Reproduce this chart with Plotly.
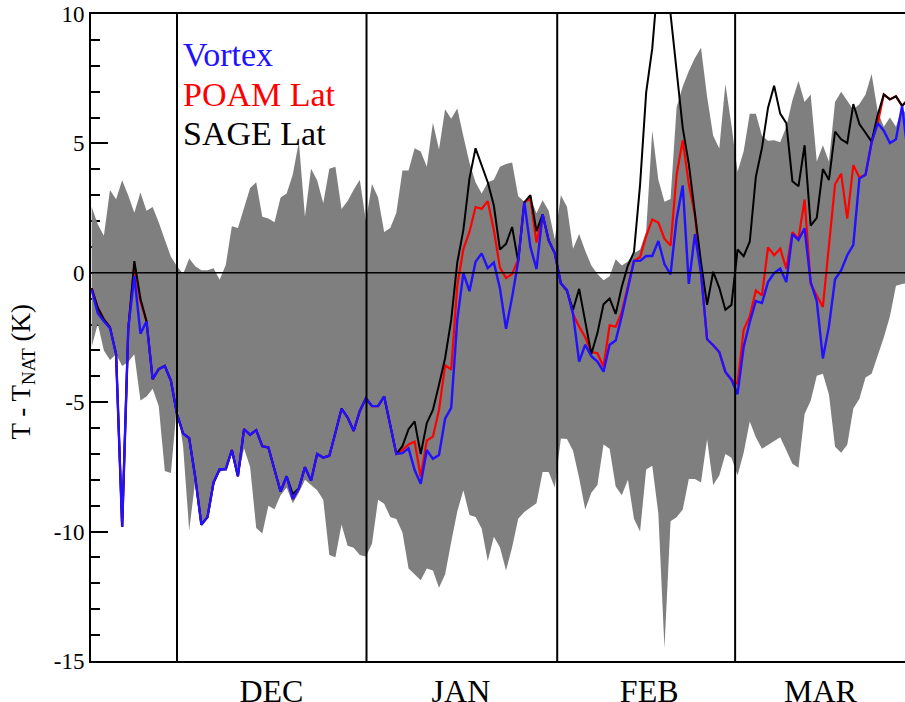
import plotly.graph_objects as go

# ---- data (daily samples, day 0 = first sample in mid-November) ----
vortex = [-0.65, -1.56, -1.87, -2.14, -3.14, -9.82, -2.16, -0.12, -2.35, -1.88,
          -4.11, -3.72, -3.6, -4.17, -5.46, -6.21, -6.39, -7.91, -9.73, -9.44,
          -8.1, -7.59, -7.59, -6.85, -7.86, -6.04, -6.26, -6.08, -6.7, -6.75,
          -7.6, -8.45, -7.86, -8.74, -8.33, -7.51, -8.03, -7.0, -7.14, -7.07,
          -6.18, -5.25, -5.59, -6.11, -5.34, -4.85, -5.15, -5.15, -4.78, -5.89,
          -7.0, -6.97, -6.78, -7.62, -8.15, -6.85, -7.19, -7.04, -5.64, -5.22,
          -1.82, -0.01, -0.71, 0.43, 0.75, 0.18, 0.4, -0.6, -2.16, -0.94,
          0.44, 2.72, 1.0, 0.15, 2.26, 1.25, 0.76, -0.41, -0.67, -1.59,
          -3.43, -2.78, -3.22, -3.43, -3.82, -2.78, -2.62, -1.67, -0.57, 0.46,
          0.46, 0.65, 0.65, 1.23, 0.34, -0.06, 2.09, 3.37, -0.43, 1.49,
          -0.01, -2.57, -2.8, -3.06, -3.83, -4.13, -4.69, -2.87, -1.91, -1.09,
          -1.17, -0.36, -0.01, 0.16, -0.36, 1.49, 1.27, 1.72, -0.36, -1.09,
          -3.31, -2.06, -0.25, 0.09, 0.68, 1.08, 3.64, 3.79, 5.04, 5.78,
          5.49, 5.01, 5.16, 6.45, 4.5]

poam_lat = [-0.6, -1.35, -1.8, -2.1, -3.14, -9.82, -2.16, 0.3, -1.1, -1.88,
            -4.11, -3.72, -3.6, -4.17, -5.46, -6.21, -6.39, -7.91, -9.73, -9.44,
            -8.1, -7.59, -7.59, -6.85, -7.86, -6.04, -6.26, -6.08, -6.7, -6.75,
            -7.6, -8.45, -7.86, -8.74, -8.33, -7.51, -8.03, -7.0, -7.14, -7.07,
            -6.18, -5.25, -5.59, -6.11, -5.34, -4.85, -5.15, -5.15, -4.78, -5.89,
            -7.0, -6.85, -6.63, -6.52, -7.88, -6.48, -6.33, -5.3, -3.57, -3.74,
            -0.49, 0.92, 1.58, 2.54, 2.47, 2.77, 1.65, 0.2, -0.2, -0.05,
            0.52, 2.72, 2.88, 1.17, 2.26, 1.25, 0.76, -0.41, -0.67, -1.59,
            -2.08, -2.49, -3.06, -3.11, -3.63, -2.03, -2.08, -1.51, -0.55, 0.46,
            0.61, 1.42, 2.06, 1.94, 1.32, 1.05, 3.79, 5.12, 3.42, 2.23,
            -0.01, -2.57, -2.8, -3.06, -3.83, -4.13, -4.28, -2.2, -1.69, -0.68,
            -0.87, 0.98, 0.68, 0.93, 0.16, 1.57, 1.32, 2.83, -0.43, -0.87,
            -1.32, 1.05, 3.42, 3.83, 2.09, 4.16, 3.68, 3.79, 5.04, 5.78,
            6.89, 6.7, 6.82, 6.45, 6.7]

sage_lat = [-0.6, -1.35, -1.8, -2.1, -3.14, -9.82, -2.16, 0.45, -1.0, -1.88,
            -4.11, -3.72, -3.6, -4.17, -5.46, -6.21, -6.39, -7.91, -9.73, -9.44,
            -8.1, -7.59, -7.59, -6.85, -7.86, -6.04, -6.26, -6.08, -6.7, -6.75,
            -7.6, -8.45, -7.86, -8.55, -8.33, -7.51, -8.03, -7.0, -7.14, -7.07,
            -6.18, -5.25, -5.59, -6.11, -5.34, -4.85, -5.15, -5.15, -4.78, -5.89,
            -7.0, -6.7, -6.04, -5.74, -7.0, -5.81, -5.3, -4.33, -3.3, -1.82,
            0.4, 1.66, 3.65, 4.81, 4.17, 3.5, 2.6, 0.9, 1.12, 1.77,
            0.44, 2.72, 3.0, 1.61, 2.26, 1.25, 0.76, -0.41, -0.7, -1.43,
            -0.62, -1.84, -3.14, -2.33, -1.22, -0.99, -1.59, -0.54, 0.28, 0.8,
            3.4, 6.97, 8.67, 11.5, 11.8, 10.0, 7.7, 5.6, 4.2, 2.2,
            0.4, -1.24, 0.04, -0.58, -1.43, -1.24, 0.9, 0.64, 1.2, 3.71,
            4.82, 6.38, 7.23, 6.15, 5.78, 3.54, 3.34, 4.93, 1.82, 2.12,
            4.01, 3.59, 5.46, 5.16, 5.01, 6.52, 5.75, 5.41, 5.07, 6.1,
            6.89, 6.7, 6.82, 6.45, 6.7]

band_upper = [2.54, 1.88, 1.43, 3.2, 2.84, 3.58, 2.99, 2.32, 3.1, 2.4,
              2.54, 1.95, 1.28, 0.62, 0.25, -0.05, 0.55, 0.25, 0.1, 0.1,
              0.18, -0.27, 0.3, 1.8, 1.73, 2.54, 3.28, 3.5, 2.17, 2.1,
              1.95, 2.91, 3.06, 3.8, 5.06, 2.17, 4.02, 3.58, 2.69, 4.02,
              4.1, 2.47, 2.77, 3.21, 3.6, 2.0, 3.43, 2.91, 1.58, 1.73,
              2.32, 3.95, 3.95, 4.81, 4.69, 4.1, 5.8, 4.76, 6.32, 5.95,
              6.35, 5.28, 4.25, 3.5, 3.06, 3.5, 3.6, 4.1, 4.2, 4.26,
              2.96, 2.75, 2.9, 2.3, 2.8, 2.4, 1.3, 3.0, 2.55, 0.93,
              1.5, 0.85, 0.28, -0.05, -0.29, -0.13, 0.52, 0.28, 0.44, 0.76,
              0.9, 1.6, 5.5, 3.6, 2.75, 2.85, 6.4, 7.2, 7.8, 8.3,
              8.7, 6.8, 5.3, 4.8, 7.3, 5.7, 3.9, 4.7, 6.15, 6.15,
              5.3, 5.1, 5.12, 5.04, 5.64, 6.67, 7.41, 6.6, 6.89, 4.3,
              4.93, 4.3, 6.6, 7.0, 6.67, 6.3, 6.52, 6.89, 7.68, 6.23,
              5.64, 6.0, 5.64, 6.38, 6.0]

band_lower = [-2.86, -1.97, -3.0, -3.37, -3.15, -3.6, -3.45, -3.15, -4.93, -4.78,
              -4.48, -5.15, -7.66, -7.74, -5.07, -6.7, -9.96, -8.03, -9.8, -9.5,
              -8.2, -7.7, -7.6, -7.0, -7.9, -6.78, -7.5, -9.86, -10.07, -9.0,
              -9.14, -8.6, -8.3, -8.9, -8.5, -8.0, -8.2, -8.4, -8.77, -10.9,
              -10.99, -9.73, -10.55, -10.62, -10.9, -10.96, -10.47, -8.77, -8.92, -9.44,
              -9.51, -10.03, -11.43, -11.66, -11.88, -11.43, -11.5, -12.17, -11.66, -10.4,
              -9.22, -8.4, -9.36, -9.44, -9.88, -11.14, -10.2, -10.6, -11.5, -10.6,
              -9.5, -9.24, -9.07, -8.9, -7.7, -7.7, -8.3, -6.4, -6.42, -6.88,
              -7.93, -9.15, -8.5, -8.2, -6.63, -6.8, -8.26, -8.6, -8.0, -9.5,
              -10.0, -7.6, -7.46, -9.3, -14.5, -9.6, -9.45, -9.15, -7.97, -7.97,
              -8.1, -6.43, -8.2, -7.83, -7.0, -7.15, -7.83, -6.95, -5.75, -6.35,
              -6.8, -6.65, -6.5, -6.35, -6.86, -7.38, -7.53, -5.46, -4.94, -3.98,
              -3.9, -4.7, -6.72, -6.95, -6.64, -5.24, -4.87, -4.05, -3.9, -3.24,
              -2.5, -1.69, -0.5, -0.43, -0.4]

days = list(range(len(vortex)))

month_starts = [14.0, 45.1, 76.4, 105.6]          # Dec 1, Jan 1, Feb 1, Mar 1
month_label_pos = [29.5, 60.6, 91.5, 119.6]
month_labels = ["DEC", "JAN", "FEB", "MAR"]

y_ticks = [-15, -10, -5, 0, 5, 10]
y_ticktext = ["-15", "-10", "-5", "0", "5", "10"]

SERIF = "Liberation Serif, Times New Roman, serif"

fig = go.Figure()
fig.add_trace(go.Scatter(x=days, y=band_lower, mode="lines", line=dict(width=0),
                         hoverinfo="skip", showlegend=False))
fig.add_trace(go.Scatter(x=days, y=band_upper, mode="lines", line=dict(width=0),
                         fill="tonexty", fillcolor="#7f7f7f",
                         hoverinfo="skip", showlegend=False))
fig.add_trace(go.Scatter(x=days, y=poam_lat, mode="lines", name="POAM Lat",
                         line=dict(color="#ff0000", width=2.2), showlegend=False))
fig.add_trace(go.Scatter(x=days, y=sage_lat, mode="lines", name="SAGE Lat",
                         line=dict(color="#000000", width=2.0), showlegend=False))
fig.add_trace(go.Scatter(x=days, y=vortex, mode="lines", name="Vortex",
                         line=dict(color="#2211ff", width=2.4), showlegend=False))

for m in month_starts:
    fig.add_shape(type="line", xref="x", yref="paper", x0=m, x1=m, y0=0, y1=1,
                  line=dict(color="black", width=2), layer="above")
fig.add_shape(type="line", xref="paper", yref="y", x0=0, x1=1, y0=0, y1=0,
              line=dict(color="black", width=1.5), layer="above")

legend_items = [("Vortex", "#2211ff", 0.938), ("POAM Lat", "#ff0000", 0.876),
                ("SAGE Lat", "#000000", 0.8155)]
for txt, col, yy in legend_items:
    fig.add_annotation(text=txt, xref="paper", yref="paper", x=0.110, y=yy,
                       xanchor="left", yanchor="middle", showarrow=False,
                       font=dict(family=SERIF, size=34, color=col))

fig.add_annotation(text="T - T<sub>NAT</sub> (K)", xref="paper", yref="paper",
                   x=-0.084, y=0.447, xanchor="center", yanchor="middle",
                   textangle=-90, showarrow=False,
                   font=dict(family=SERIF, size=27, color="black"))

fig.update_layout(
    width=905, height=702,
    margin=dict(l=91, r=0, t=14, b=41, pad=0, autoexpand=False),
    paper_bgcolor="white", plot_bgcolor="white",
    showlegend=False,
    xaxis=dict(range=[-0.115, 133.48], showgrid=False, zeroline=False,
               showline=True, linecolor="black", linewidth=2, mirror=True,
               ticks="", tickmode="array", tickvals=month_label_pos,
               ticktext=month_labels, ticklabelstandoff=1,
               ticklabeloverflow="allow",
               tickfont=dict(family=SERIF, size=32, color="black"),
               layer="below traces", automargin=False, fixedrange=True),
    yaxis=dict(range=[-15, 10], showgrid=False, zeroline=False,
               showline=True, linecolor="black", linewidth=2,
               ticks="inside", ticklen=17, tickwidth=2, tickcolor="black",
               tickmode="array", tickvals=y_ticks, ticktext=y_ticktext,
               ticklabeloverflow="allow",
               tickfont=dict(family=SERIF, size=23, color="black"),
               minor=dict(ticks="inside", ticklen=9, tickwidth=2,
                          tickcolor="black", tickmode="linear", tick0=0, dtick=1),
               layer="below traces", automargin=False, fixedrange=True),
    yaxis2=dict(range=[-15, 10], overlaying="y", side="right", anchor="x",
                showgrid=False, zeroline=False, showline=False,
                ticks="inside", ticklen=7, tickwidth=2, tickcolor="black",
                tickmode="array", tickvals=y_ticks, showticklabels=False,
                layer="below traces", fixedrange=True),
)

# remove the default page margin so the 905x702 figure fills the window exactly
fig.write_html(
    "out.html",
    config={"displayModeBar": False},
    post_script=("document.body.style.margin='0';"
                 "document.body.style.overflow='hidden';"
                 "document.documentElement.style.overflow='hidden';"),
)
